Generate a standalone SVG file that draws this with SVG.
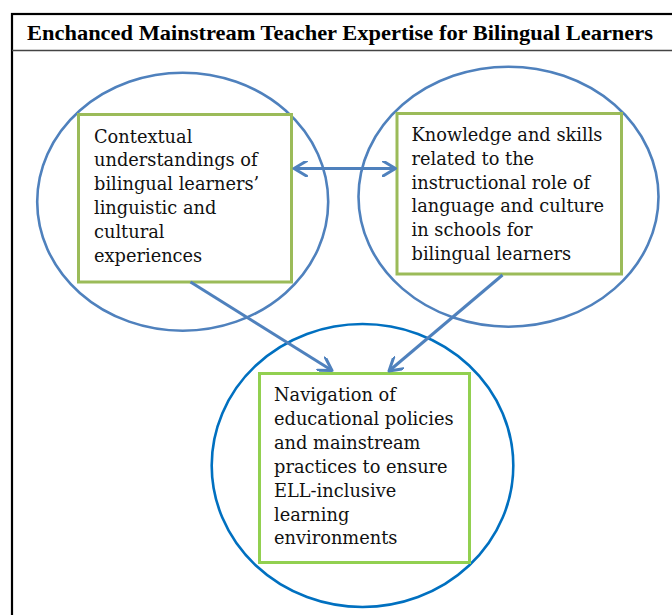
<svg xmlns="http://www.w3.org/2000/svg" width="672" height="615" viewBox="0 0 672 615">
<defs>
<style>
.circ{fill:none;stroke:#4f81bd;stroke-width:2.6}
.circ2{fill:none;stroke:#0070c0;stroke-width:2.6}
.box{fill:#ffffff;stroke:#9bbb59;stroke-width:3}
.box2{fill:#ffffff;stroke:#92d050;stroke-width:3}
.txt{font-family:"DejaVu Serif","Liberation Serif",serif;font-size:17.8px;fill:#111111}
.title{font-family:"Liberation Serif",serif;font-weight:bold;font-size:21px;fill:#000000}
.conn{fill:none;stroke:#4f81bd;stroke-width:3}
</style>
<marker id="ah" viewBox="0 0 16 16" refX="14" refY="8" markerWidth="16" markerHeight="16" markerUnits="userSpaceOnUse" orient="auto-start-reverse">
<path d="M1.5,0.5 L14,8 L1.5,15.5" fill="none" stroke="#4f81bd" stroke-width="3" stroke-linecap="round" stroke-linejoin="round"/>
</marker>
</defs>
<rect x="0" y="0" width="672" height="615" fill="#ffffff"/>
<g id="frame">
<rect x="12" y="14" width="700" height="700" fill="none" stroke="#000000" stroke-width="2.2"/>
<line x1="12" y1="50.5" x2="672" y2="50.5" stroke="#444444" stroke-width="1.6"/>
<text class="title" x="27" y="40" textLength="626" lengthAdjust="spacingAndGlyphs">Enchanced Mainstream Teacher Expertise for Bilingual Learners</text>
</g>
<g id="circles">
<ellipse class="circ" cx="182.7" cy="201.7" rx="145.5" ry="129"/>
<ellipse class="circ" cx="508.5" cy="196.7" rx="150" ry="130"/>
<ellipse class="circ2" cx="362.5" cy="465.5" rx="150.8" ry="141.5"/>
</g>
<g id="node-contextual">
<rect class="box" x="78.5" y="114.5" width="213" height="167.5"/>
<text class="txt" x="94" y="142.5">
<tspan x="94" y="142.5">Contextual</tspan>
<tspan x="94" y="166.3">understandings of</tspan>
<tspan x="94" y="190.1">bilingual learners’</tspan>
<tspan x="94" y="213.9">linguistic and</tspan>
<tspan x="94" y="237.7">cultural</tspan>
<tspan x="94" y="261.5">experiences</tspan>
</text>
</g>
<g id="node-knowledge">
<rect class="box" x="397" y="113.5" width="224.5" height="160.5"/>
<text class="txt" x="411.5" y="141">
<tspan x="411.5" y="141">Knowledge and skills</tspan>
<tspan x="411.5" y="164.8">related to the</tspan>
<tspan x="411.5" y="188.6">instructional role of</tspan>
<tspan x="411.5" y="212.4">language and culture</tspan>
<tspan x="411.5" y="236.2">in schools for</tspan>
<tspan x="411.5" y="260">bilingual learners</tspan>
</text>
</g>
<g id="node-navigation">
<rect class="box2" x="259.5" y="373.5" width="210" height="189"/>
<text class="txt" x="274" y="401">
<tspan x="274" y="401">Navigation of</tspan>
<tspan x="274" y="424.9">educational policies</tspan>
<tspan x="274" y="448.8">and mainstream</tspan>
<tspan x="274" y="472.7">practices to ensure</tspan>
<tspan x="274" y="496.6">ELL-inclusive</tspan>
<tspan x="274" y="520.5">learning</tspan>
<tspan x="274" y="544.4">environments</tspan>
</text>
</g>
<g id="connectors">
<line class="conn" x1="294" y1="168.5" x2="395.5" y2="168.5" marker-start="url(#ah)" marker-end="url(#ah)"/>
<line class="conn" x1="190.5" y1="282" x2="332" y2="370.5" marker-end="url(#ah)"/>
<line class="conn" x1="502.5" y1="275" x2="389" y2="371" marker-end="url(#ah)"/>
</g>
</svg>
